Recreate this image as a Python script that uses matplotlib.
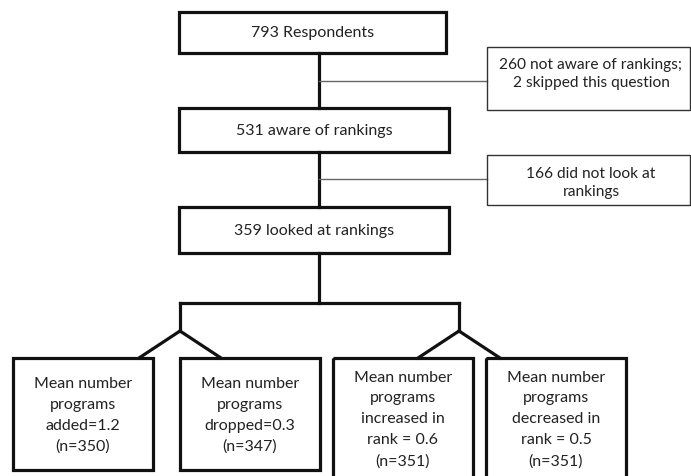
import matplotlib.pyplot as plt
from matplotlib.patches import Rectangle

# flow data
main_labels = ['793 Respondents', '531 aware of rankings', '359 looked at rankings']
side_labels = ['260 not aware of rankings;\n2 skipped this question',
               '166 did not look at\nrankings']
outcome_labels = ['Mean number\nprograms\nadded=1.2\n(n=350)',
                  'Mean number\nprograms\ndropped=0.3\n(n=347)',
                  'Mean number\nprograms\nincreased in\nrank = 0.6\n(n=351)',
                  'Mean number\nprograms\ndecreased in\nrank = 0.5\n(n=351)']

# layout in pixels (x0, y0, x1, y1), y down
main_boxes = [(179, 12, 446, 53), (179, 108, 449, 152), (179, 207, 449, 253)]
side_boxes = [(487, 47, 690, 110), (487, 155, 690, 205)]
side_links = [81, 179]
side_text_y = [74, 183]
outcome_boxes = [(13, 358, 153, 470), (180, 358, 320, 470),
                 (333, 358, 473, 478), (486, 358, 626, 478)]
spine_x = 319
branch_y, fork_y = 303, 331
fork_x = [180, 459]
fork_spread = 41

FONT = 'Lato'
FS = 11.5
THICK = 2.3
fig = plt.figure(figsize=(6.91, 4.76), dpi=100)
ax = fig.add_axes([0, 0, 1, 1])
ax.set_xlim(0, 691)
ax.set_ylim(476, 0)
ax.axis('off')


def box(b, lw, color='#111111'):
    x0, y0, x1, y1 = b
    ax.add_patch(Rectangle((x0, y0), x1 - x0, y1 - y0, fill=False,
                           lw=lw, edgecolor=color, joinstyle='miter', zorder=3))


for b, lab in zip(main_boxes, main_labels):
    box(b, THICK)
    ax.text((b[0] + b[2]) / 2, (b[1] + b[3]) / 2 + 1, lab, ha='center', va='center',
            fontsize=FS, family=FONT, color='#222222')

# spine between main boxes
for upper, lower in zip(main_boxes[:-1], main_boxes[1:]):
    ax.plot([spine_x, spine_x], [upper[3], lower[1]], color='#111111', lw=THICK, zorder=2)

for b, lab, ly, ty in zip(side_boxes, side_labels, side_links, side_text_y):
    box(b, 1.0, '#333333')
    ax.plot([spine_x, b[0]], [ly, ly], color='#666666', lw=1.0, zorder=2)
    ax.text(591, ty, lab, ha='center', va='center',
            fontsize=11.2, family=FONT, color='#222222', linespacing=1.38)

# branching from the last box
ax.plot([spine_x, spine_x], [main_boxes[-1][3], branch_y], color='#111111', lw=THICK)
ax.plot([fork_x[0], fork_x[1]], [branch_y, branch_y], color='#111111', lw=THICK,
        solid_capstyle='projecting')
for fx in fork_x:
    ax.plot([fx, fx], [branch_y, fork_y], color='#111111', lw=THICK)
    for dx in (-fork_spread, fork_spread):
        ax.plot([fx, fx + dx], [fork_y, 358], color='#111111', lw=THICK)

for ob, lab in zip(outcome_boxes, outcome_labels):
    box(ob, THICK)
    n = lab.count('\n') + 1
    cy = 415.5 if n == 4 else 419.5
    ax.text((ob[0] + ob[2]) / 2, cy, lab, ha='center', va='center',
            fontsize=FS, family=FONT, color='#222222', linespacing=1.62)

fig.savefig('out.png', dpi=100)
